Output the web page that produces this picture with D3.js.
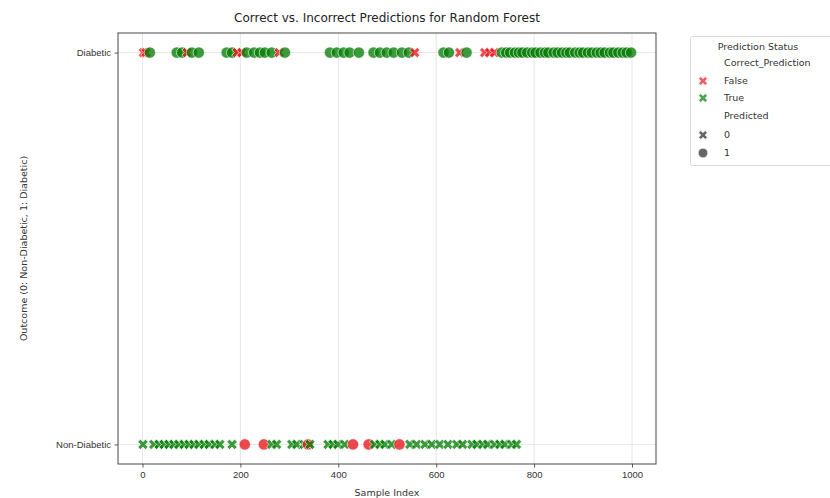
<!DOCTYPE html>
<html>
<head>
<meta charset="utf-8">
<script src="https://cdn.jsdelivr.net/npm/d3@7/dist/d3.min.js"></script>
<style>
  html, body { margin: 0; padding: 0; background: #fff; }
  svg { display: block; font-family: "DejaVu Sans", sans-serif; }
</style>
</head>
<body>
<svg id="chart" width="830" height="498"></svg>
<script>
// Outcome classes (y axis) and x tick values
const outcomeLabels = ["Non-Diabetic", "Diabetic"];
const xTickValues = [0, 200, 400, 600, 800, 1000];

// Sample indices per outcome / prediction group
// Outcome 1, predicted 1 (correct)
const diabeticPredDiabetic = [15, 70, 81, 101, 115, 172, 183, 213, 228, 240, 250, 264, 291,
  383, 397, 411, 423, 442, 472, 485, 499, 513, 530, 544, 615, 626, 662,
  734, 743, 751, 761, 769, 776, 786, 796, 803, 813, 822, 829, 840, 848, 857, 866,
  873, 884, 893, 900, 910, 918, 928, 936, 944, 955, 962, 972, 981, 989, 998];
// Outcome 1, predicted 0 (incorrect)
const diabeticPredNon = [2, 7, 91, 193, 203, 279, 556, 648, 699, 709, 719];
// Outcome 0, predicted 0 (correct)
const nonPredNon = [1, 23, 34, 44, 54, 64, 74, 85, 95, 105, 115, 126, 136, 148, 158, 183,
  264, 274, 305, 315, 330, 342, 379, 389, 399, 413, 474, 485, 495, 509,
  546, 560, 577, 591, 607, 624, 642, 654, 673, 683, 695, 705, 719, 730, 740, 754, 764];
// Outcome 0, predicted 1 (incorrect)
const nonPredDiabetic = [209, 248, 338, 430, 462, 525];

const samples = [];
diabeticPredDiabetic.forEach(i => samples.push({ index: i, outcome: 1, predicted: 1 }));
diabeticPredNon.forEach(i => samples.push({ index: i, outcome: 1, predicted: 0 }));
nonPredNon.forEach(i => samples.push({ index: i, outcome: 0, predicted: 0 }));
nonPredDiabetic.forEach(i => samples.push({ index: i, outcome: 0, predicted: 1 }));
samples.forEach(d => d.correct = d.outcome === d.predicted);
samples.sort((a, b) => a.index - b.index);

const svg = d3.select("#chart");
const plot = { left: 118, right: 656, top: 33, bottom: 464 };

const x = d3.scaleLinear().domain([-50, 1049]).range([plot.left, plot.right]);
const y = d3.scaleLinear().domain([-0.05, 1.05]).range([plot.bottom, plot.top]);
const color = c => c ? "#067d06" : "#e8161a";

const xShape = d3.symbol().type(d3.symbolCross).size(66);
const oShape = d3.symbol().type(d3.symbolCircle).size(100);

// grid
const grid = svg.append("g");
grid.selectAll("line.vx").data(xTickValues).join("line")
  .attr("x1", d => x(d)).attr("x2", d => x(d))
  .attr("y1", plot.top).attr("y2", plot.bottom)
  .attr("stroke", "#e3e3e3").attr("stroke-width", 0.9);
grid.selectAll("line.hy").data([0, 1]).join("line")
  .attr("x1", plot.left).attr("x2", plot.right)
  .attr("y1", d => y(d)).attr("y2", d => y(d))
  .attr("stroke", "#e3e3e3").attr("stroke-width", 0.9);

// points
svg.append("g").selectAll("path").data(samples).join("path")
  .attr("d", d => d.predicted === 0 ? xShape() : oShape())
  .attr("transform", d => `translate(${x(d.index)},${y(d.outcome)})` + (d.predicted === 0 ? " rotate(45)" : ""))
  .attr("fill", d => color(d.correct))
  .attr("fill-opacity", 0.78)
  .attr("stroke", "#fff")
  .attr("stroke-width", 0.6);

// frame
svg.append("rect")
  .attr("x", plot.left).attr("y", plot.top)
  .attr("width", plot.right - plot.left).attr("height", plot.bottom - plot.top)
  .attr("fill", "none").attr("stroke", "#333").attr("stroke-width", 0.9);

// axes
const xAxis = svg.append("g").attr("transform", `translate(0,${plot.bottom})`)
  .call(d3.axisBottom(x).tickValues(xTickValues).tickSize(3.5).tickPadding(3.5).tickFormat(d3.format("d")));
const yAxis = svg.append("g").attr("transform", `translate(${plot.left},0)`)
  .call(d3.axisLeft(y).tickValues([0, 1]).tickSize(3.5).tickPadding(3.5).tickFormat(d => outcomeLabels[d]));
[xAxis, yAxis].forEach(a => {
  a.select(".domain").remove();
  a.selectAll(".tick line").attr("stroke", "#333").attr("stroke-width", 0.8);
  a.selectAll(".tick text").attr("fill", "#333").style("font-size", "9.5px");
});

// titles
svg.append("text").attr("x", (plot.left + plot.right) / 2).attr("y", 22)
  .attr("text-anchor", "middle").attr("fill", "#222").style("font-size", "12px")
  .text("Correct vs. Incorrect Predictions for Random Forest");
svg.append("text").attr("x", (plot.left + plot.right) / 2).attr("y", 496)
  .attr("text-anchor", "middle").attr("fill", "#333").style("font-size", "9.5px")
  .text("Sample Index");
svg.append("text").attr("transform", `translate(27,${(plot.top + plot.bottom) / 2}) rotate(-90)`)
  .attr("text-anchor", "middle").attr("fill", "#333").style("font-size", "9.5px")
  .text("Outcome (0: Non-Diabetic, 1: Diabetic)");

// legend
const lg = svg.append("g");
lg.append("rect").attr("x", 690.5).attr("y", 36.5).attr("width", 160).attr("height", 129)
  .attr("rx", 2).attr("fill", "#fff").attr("stroke", "#d8d8d8").attr("stroke-width", 0.9);
lg.append("text").attr("x", 758).attr("y", 50).attr("text-anchor", "middle")
  .attr("fill", "#333").style("font-size", "9.5px").text("Prediction Status");
const legendRows = [
  { label: "Correct_Prediction", y: 66, marker: null },
  { label: "False", y: 84, marker: "x", fill: color(false) },
  { label: "True", y: 101, marker: "x", fill: color(true) },
  { label: "Predicted", y: 119, marker: null },
  { label: "0", y: 138, marker: "x", fill: "#555" },
  { label: "1", y: 156, marker: "o", fill: "#555" }
];
const legendX = d3.symbol().type(d3.symbolCross).size(48);
const legendO = d3.symbol().type(d3.symbolCircle).size(72);
legendRows.forEach(r => {
  if (r.marker) {
    lg.append("path")
      .attr("d", r.marker === "x" ? legendX() : legendO())
      .attr("transform", `translate(703,${r.y - 3})` + (r.marker === "x" ? " rotate(45)" : ""))
      .attr("fill", r.fill).attr("fill-opacity", r.fill !== "#555" ? 0.7 : 0.9)
      .attr("stroke", "#fff").attr("stroke-width", 0.6);
  }
  lg.append("text").attr("x", 724).attr("y", r.y).attr("fill", "#333")
    .style("font-size", "9.5px").text(r.label);
});
</script>
</body>
</html>
